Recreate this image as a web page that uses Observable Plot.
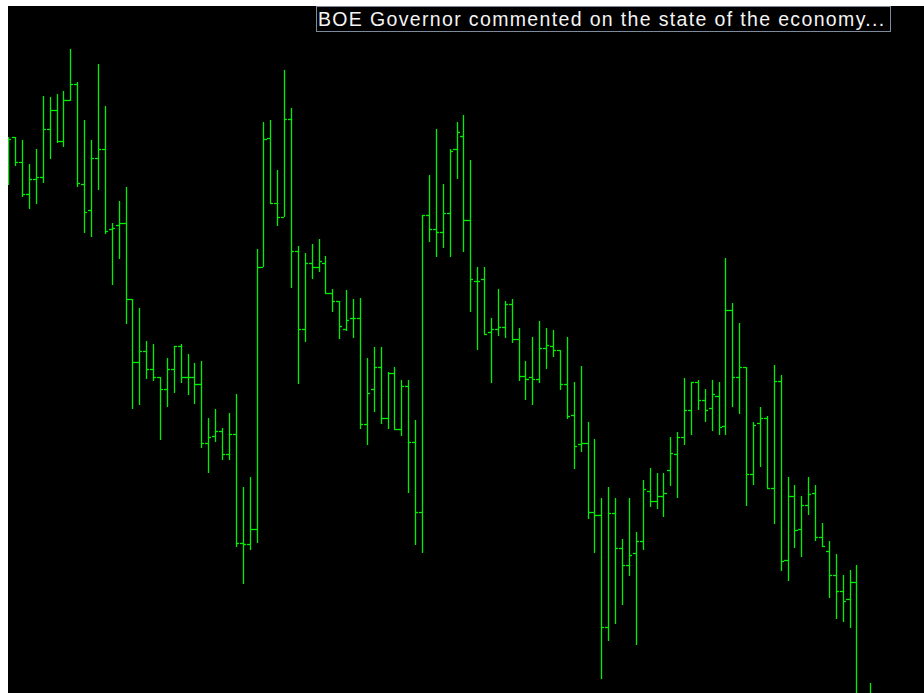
<!DOCTYPE html>
<html>
<head>
<meta charset="utf-8">
<script src="https://cdn.jsdelivr.net/npm/d3@7"></script>
<script src="https://cdn.jsdelivr.net/npm/@observablehq/plot@0.6"></script>
<style>
  html, body { margin: 0; padding: 0; background: #ffffff; }
  #chart { position: absolute; left: 8px; top: 6px; width: 916px; height: 687px; overflow: hidden; background: #000; }
  #chart svg { display: block; }
  #note {
    position: absolute; left: 316px; top: 6px; width: 572px; height: 24px;
    border: 1px solid #7d8a9c; background: #000; color: #f4f4f4;
    font-family: "Liberation Sans", Arial, sans-serif; font-size: 19.5px;
    letter-spacing: 1.35px; line-height: 25px; padding-left: 1px; white-space: nowrap; overflow: hidden;
  }
</style>
</head>
<body>
<div id="chart"></div>
<div id="note">BOE Governor commented on the state of the economy...</div>
<script>
const opens = [
  1.5850,1.5863,1.5838,1.5806,1.5821,1.5823,1.5871,1.5890,1.5859,1.5900,
  1.5916,1.5816,1.5790,1.5842,1.5851,1.5771,1.5775,1.5777,1.5701,1.5638,
  1.5649,1.5631,1.5623,1.5611,1.5631,1.5654,1.5623,1.5623,1.5616,1.5557,
  1.5564,1.5569,1.5546,1.5566,1.5457,1.5456,1.5471,1.5733,1.5862,1.5797,
  1.5783,1.5881,1.5749,1.5671,1.5737,1.5733,1.5737,1.5707,1.5699,1.5671,
  1.5682,1.5682,1.5576,1.5611,1.5633,1.5582,1.5627,1.5571,1.5614,1.5558,
  1.5488,1.5785,1.5771,1.5768,1.5787,1.5851,1.5864,1.5780,1.5719,1.5721,
  1.5668,1.5671,1.5673,1.5696,1.5661,1.5624,1.5623,1.5621,1.5652,1.5654,
  1.5650,1.5616,1.5585,1.5556,1.5557,1.5488,1.5485,1.5373,1.5487,1.5452,
  1.5435,1.5447,1.5459,1.5509,1.5499,1.5504,1.5530,1.5546,1.5563,1.5590,
  1.5618,1.5600,1.5592,1.5604,1.5574,1.5690,1.5623,1.5633,1.5526,1.5577,
  1.5582,1.5512,1.5619,1.5440,1.5504,1.5471,1.5495,1.5507,1.5463,1.5449,
  1.5425,1.5409,1.5401,1.5418,1.5288,1.5280
];
const highs = [
  1.5863,1.5863,1.5860,1.5836,1.5851,1.5904,1.5903,1.5906,1.5909,1.5951,
  1.5918,1.5880,1.5860,1.5936,1.5894,1.5777,1.5799,1.5813,1.5701,1.5692,
  1.5659,1.5656,1.5623,1.5642,1.5654,1.5656,1.5646,1.5637,1.5639,1.5582,
  1.5591,1.5572,1.5587,1.5606,1.5513,1.5523,1.5751,1.5878,1.5880,1.5830,
  1.5930,1.5892,1.5754,1.5747,1.5756,1.5761,1.5744,1.5711,1.5699,1.5710,
  1.5701,1.5702,1.5642,1.5653,1.5653,1.5628,1.5633,1.5620,1.5620,1.5580,
  1.5785,1.5825,1.5871,1.5816,1.5851,1.5878,1.5885,1.5840,1.5733,1.5733,
  1.5682,1.5711,1.5699,1.5701,1.5672,1.5639,1.5663,1.5679,1.5672,1.5670,
  1.5650,1.5663,1.5618,1.5634,1.5578,1.5561,1.5502,1.5513,1.5502,1.5461,
  1.5502,1.5468,1.5520,1.5532,1.5527,1.5527,1.5563,1.5568,1.5622,1.5618,
  1.5620,1.5611,1.5620,1.5618,1.5742,1.5697,1.5677,1.5633,1.5578,1.5593,
  1.5584,1.5635,1.5625,1.5523,1.5515,1.5504,1.5523,1.5515,1.5477,1.5459,
  1.5446,1.5425,1.5430,1.5435,1.5300,1.5317
];
const lows = [
  1.5815,1.5834,1.5803,1.5791,1.5796,1.5817,1.5841,1.5857,1.5853,1.5899,
  1.5813,1.5767,1.5763,1.5810,1.5766,1.5715,1.5741,1.5676,1.5591,1.5595,
  1.5621,1.5619,1.5560,1.5593,1.5607,1.5617,1.5605,1.5596,1.5552,1.5527,
  1.5558,1.5540,1.5540,1.5453,1.5416,1.5450,1.5457,1.5733,1.5797,1.5774,
  1.5783,1.5712,1.5616,1.5658,1.5721,1.5728,1.5707,1.5688,1.5661,1.5669,
  1.5662,1.5571,1.5555,1.5588,1.5576,1.5571,1.5571,1.5564,1.5507,1.5455,
  1.5447,1.5758,1.5743,1.5752,1.5743,1.5821,1.5748,1.5688,1.5650,1.5666,
  1.5617,1.5664,1.5662,1.5657,1.5619,1.5600,1.5595,1.5617,1.5631,1.5643,
  1.5610,1.5581,1.5531,1.5548,1.5481,1.5447,1.5321,1.5359,1.5376,1.5395,
  1.5424,1.5355,1.5450,1.5493,1.5491,1.5483,1.5514,1.5502,1.5555,1.5565,
  1.5590,1.5578,1.5569,1.5565,1.5565,1.5593,1.5586,1.5494,1.5515,1.5533,
  1.5512,1.5476,1.5429,1.5419,1.5452,1.5443,1.5485,1.5459,1.5453,1.5402,
  1.5381,1.5378,1.5372,1.5270,1.5260,1.5270
];
const closes = [
  1.5861,1.5838,1.5806,1.5821,1.5823,1.5871,1.5890,1.5859,1.5900,1.5916,
  1.5817,1.5788,1.5842,1.5851,1.5769,1.5772,1.5777,1.5701,1.5638,1.5649,
  1.5631,1.5623,1.5611,1.5631,1.5654,1.5623,1.5623,1.5616,1.5557,1.5563,
  1.5569,1.5546,1.5566,1.5457,1.5456,1.5471,1.5733,1.5861,1.5797,1.5783,
  1.5881,1.5749,1.5671,1.5737,1.5733,1.5739,1.5707,1.5699,1.5674,1.5680,
  1.5682,1.5576,1.5607,1.5633,1.5582,1.5627,1.5571,1.5614,1.5558,1.5488,
  1.5785,1.5771,1.5768,1.5787,1.5849,1.5868,1.5780,1.5721,1.5719,1.5666,
  1.5671,1.5673,1.5696,1.5661,1.5624,1.5621,1.5621,1.5652,1.5655,1.5650,
  1.5616,1.5584,1.5554,1.5557,1.5488,1.5485,1.5373,1.5487,1.5452,1.5435,
  1.5445,1.5459,1.5511,1.5499,1.5504,1.5507,1.5547,1.5563,1.5590,1.5618,
  1.5600,1.5590,1.5606,1.5573,1.5690,1.5623,1.5633,1.5526,1.5575,1.5582,
  1.5512,1.5619,1.5439,1.5504,1.5470,1.5495,1.5506,1.5463,1.5454,1.5425,
  1.5409,1.5399,1.5418,1.5285,1.5280,1.5300
];

const bars = opens.map((o, i) => ({i, open: o, high: highs[i], low: lows[i], close: closes[i]}));
const green = "#00ee00";
const tick = 0.45;

const chart = Plot.plot({
  width: 916,
  height: 687,
  margin: 0,
  style: {background: "#000", overflow: "hidden"},
  x: {axis: null, domain: [-0.04, 132.79], round: true},
  y: {axis: null, domain: [1.5307, 1.5994], round: true},
  marks: [
    Plot.ruleX(bars, {x: "i", y1: "low", y2: "high", stroke: green, strokeWidth: 1.3, clip: true}),
    Plot.ruleY(bars, {y: "open", x1: d => d.i - tick, x2: "i", stroke: green, strokeWidth: 1.3, clip: true}),
    Plot.ruleY(bars, {y: "close", x1: "i", x2: d => d.i + tick, stroke: green, strokeWidth: 1.3, clip: true})
  ]
});
document.getElementById("chart").appendChild(chart);
</script>
</body>
</html>
